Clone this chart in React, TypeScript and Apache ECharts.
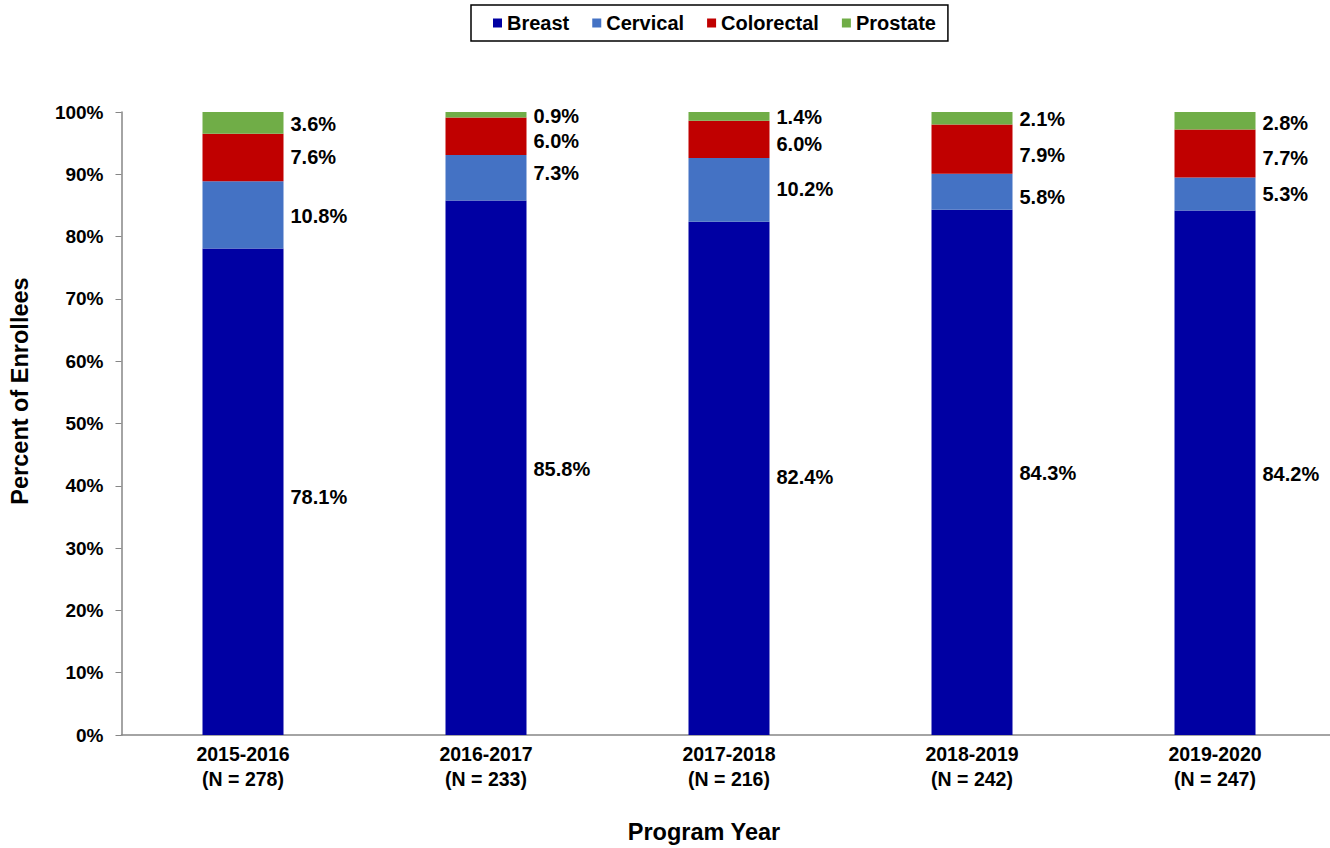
import React, { useEffect, useRef } from "react";
import * as echarts from "echarts";

const categories = ["2015-2016\n(N = 278)", "2016-2017\n(N = 233)", "2017-2018\n(N = 216)", "2018-2019\n(N = 242)", "2019-2020\n(N = 247)"];
const breast = [78.1, 85.8, 82.4, 84.3, 84.2];
const cervical = [10.8, 7.3, 10.2, 5.8, 5.3];
const colorectal = [7.6, 6.0, 6.0, 7.9, 7.7];
const prostate = [3.6, 0.9, 1.4, 2.1, 2.8];
const yTicks = [0, 10, 20, 30, 40, 50, 60, 70, 80, 90, 100];

// label nudges (pixels) to mimic the manual placement in the reference
const breastDy = [5, 1, -1, 1, 1];
const cervicalDy = [1, -5, -1, 5, 0];
const colorectalDy = [0, 5, 5, 6, 5];
const prostateDy = [1, 1, 1, 1, 2];

const FONT = "'Liberation Sans', Arial, sans-serif";

export default function App() {
  const ref = useRef<HTMLDivElement>(null);
  useEffect(() => {
    if (!ref.current) return;
    const chart = echarts.init(ref.current, null, { renderer: "svg" });
    const mk = (name: string, values: number[], dys: number[], color: string) => ({
      name,
      type: "bar",
      stack: "total",
      barWidth: 81,
      itemStyle: { color },
      data: values.map((v, i) => ({
        value: v,
        label: { offset: [0, dys[i]] },
      })),
      label: {
        show: true,
        position: "right",
        distance: 7,
        color: "#000",
        fontFamily: FONT,
        fontWeight: "bold",
        fontSize: 20,
        formatter: (p: any) => Number(p.value).toFixed(1) + "%",
      },
    });
    chart.setOption({
      animation: false,
      textStyle: { fontFamily: FONT },
      legend: {
        left: 471,
        top: 5,
        padding: [8, 12, 8, 22],
        borderColor: "#000",
        borderWidth: 1.5,
        itemGap: 23,
        itemWidth: 9,
        itemHeight: 9,
        icon: "rect",
        textStyle: { fontFamily: FONT, fontWeight: "bold", fontSize: 20, color: "#000" },
        data: ["Breast", "Cervical", "Colorectal", "Prostate"],
      },
      grid: { left: 121.5, top: 112, right: 3.5, height: 623 },
      xAxis: {
        type: "category",
        data: categories,
        axisTick: { show: false },
        axisLine: { lineStyle: { color: "#868686", width: 1.5 } },
        axisLabel: {
          margin: 6,
          color: "#000",
          fontFamily: FONT,
          fontWeight: "bold",
          fontSize: 19.5,
          lineHeight: 25,
        },
      },
      yAxis: {
        type: "value",
        min: yTicks[0],
        max: yTicks[yTicks.length - 1],
        interval: 10,
        splitLine: { show: false },
        axisLine: { show: true, lineStyle: { color: "#868686", width: 1.5 } },
        axisTick: { show: true, inside: false, length: 6, lineStyle: { color: "#868686" } },
        axisLabel: {
          margin: 18,
          color: "#000",
          fontFamily: FONT,
          fontWeight: "bold",
          fontSize: 19,
          formatter: (v: number) => v + "%",
        },
      },
      graphic: [
        {
          type: "text",
          x: 20,
          y: 391,
          rotation: Math.PI / 2,
          style: {
            text: "Percent of Enrollees",
            fontFamily: FONT,
            fontWeight: "bold",
            fontSize: 23.5,
            fill: "#000",
            align: "center",
            verticalAlign: "middle",
          },
        },
        {
          type: "text",
          x: 704,
          y: 832,
          style: {
            text: "Program Year",
            fontFamily: FONT,
            fontWeight: "bold",
            fontSize: 23.5,
            fill: "#000",
            align: "center",
            verticalAlign: "middle",
          },
        },
      ],
      series: [
        mk("Breast", breast, breastDy, "#0000A3"),
        mk("Cervical", cervical, cervicalDy, "#4472C4"),
        mk("Colorectal", colorectal, colorectalDy, "#C00000"),
        mk("Prostate", prostate, prostateDy, "#70AD47"),
      ],
    });
    return () => chart.dispose();
  }, []);
  return (
    <div style={{ position: "absolute", left: 0, top: 0, width: 1330, height: 848, overflow: "hidden", background: "#fff" }}>
      <div ref={ref} style={{ width: 1340, height: 848 }} />
    </div>
  );
}
